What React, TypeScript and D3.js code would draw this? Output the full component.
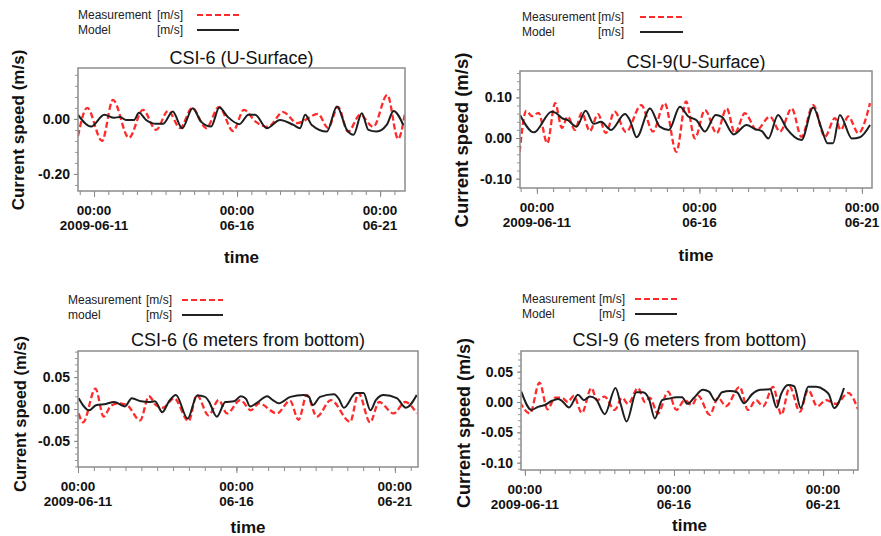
import React, { useEffect, useRef } from 'react';
import * as d3 from 'd3';

// [days since 2009-06-11 00:00, current speed m/s]
const csi6SurfMeas = [
  [-0.56, -0.062], [-0.24, 0.04], [0.28, -0.08], [0.66, 0.069], [1.22, -0.069], [1.71, 0.033],
  [2.17, -0.04], [2.59, 0.029], [3.01, -0.033], [3.43, 0.04], [3.92, -0.033], [4.37, 0.044],
  [4.86, -0.044], [5.24, 0.033], [5.66, -0.011], [6.08, -0.029], [6.61, 0.025], [7.1, -0.015],
  [7.83, 0.018], [8.18, -0.033], [8.53, 0.044], [8.88, -0.047], [9.3, 0.015], [9.76, -0.029],
  [10.25, 0.087], [10.63, -0.073], [10.87, 0.022],
];
const csi6SurfModel = [
  [-0.56, 0.015], [-0.1, -0.028], [0.36, 0.015], [0.7, 0.004], [0.91, 0.007], [1.12, -0.004],
  [1.4, -0.004], [1.57, 0.022], [1.82, -0.004], [2.17, -0.018], [2.41, -0.018], [2.75, 0.027],
  [3.08, -0.034], [3.45, 0.039], [3.74, -0.01], [4.09, -0.028], [4.38, 0.041], [4.67, 0.008],
  [5.08, -0.019], [5.4, 0.015], [5.63, 0.015], [6.04, -0.034], [6.5, -0.004], [6.97, -0.022],
  [7.2, -0.034], [7.38, 0.015], [7.61, -0.022], [8.14, -0.046], [8.49, 0.045], [8.84, -0.04],
  [9.07, -0.058], [9.36, 0.021], [9.59, -0.04], [9.88, -0.046], [10.23, -0.022], [10.47, 0.029],
  [10.81, -0.022],
];
const csi9SurfMeas = [
  [-0.53, -0.034], [-0.33, 0.067], [-0.15, 0.054], [0.05, 0.062], [0.32, -0.013], [0.56, 0.086],
  [0.77, 0.025], [0.95, 0.053], [1.17, 0.02], [1.38, 0.062], [1.63, 0.017], [1.88, 0.059],
  [2.12, 0.012], [2.39, 0.065], [2.74, 0.015], [3.21, 0.081], [3.57, 0.016], [3.93, 0.086],
  [4.29, -0.034], [4.59, 0.09], [4.86, -0.001], [5.17, 0.069], [5.53, 0.012], [5.84, 0.073],
  [6.09, 0.012], [6.4, 0.061], [6.76, 0.02], [7.17, 0.053], [7.48, 0.016], [7.84, 0.073],
  [8.14, 0.003], [8.5, 0.081], [8.86, 0.003], [9.17, 0.049], [9.35, 0.02], [9.58, 0.053],
  [9.89, 0.012], [10.25, 0.086],
];
const csi9SurfModel = [
  [-0.52, 0.057], [-0.09, 0.014], [0.45, 0.065], [0.58, 0.062], [0.77, 0.049], [0.95, 0.044],
  [1.22, 0.028], [1.5, 0.067], [1.75, 0.035], [1.97, 0.04], [2.28, 0.02], [2.71, 0.059],
  [2.86, 0.044], [3.07, 0.002], [3.48, 0.073], [3.78, 0.028], [4.06, 0.02], [4.4, 0.077],
  [4.66, 0.053], [4.91, 0.044], [5.17, 0.016], [5.5, 0.057], [5.69, 0.052], [6.06, 0.009],
  [6.45, 0.032], [6.71, 0.022], [6.92, 0.017], [7.12, -0.001], [7.42, 0.057], [7.68, 0.024],
  [8.14, -0.005], [8.5, 0.075], [8.77, 0.02], [8.94, -0.013], [9.11, -0.013], [9.32, 0.057],
  [9.69, -0.001], [9.94, 0.002], [10.25, 0.032],
];
const csi6BotMeas = [
  [0.02, -0.007], [0.16, -0.021], [0.55, 0.032], [0.81, -0.012], [1.04, 0.005], [1.29, 0.009],
  [1.55, 0.006], [1.96, -0.018], [2.24, 0.02], [2.46, 0.006], [2.68, 0.002], [3.03, 0.017],
  [3.49, -0.019], [3.75, 0.022], [4.12, -0.01], [4.44, 0.014], [4.7, -0.007], [5.12, 0.014],
  [5.46, -0.002], [5.71, 0.009], [6.28, -0.007], [6.69, 0.013], [6.96, -0.017], [7.22, 0.022],
  [7.54, -0.012], [7.98, 0.014], [8.59, -0.02], [8.85, 0.025], [9.22, -0.021], [9.5, 0.011],
  [9.96, -0.007], [10.33, 0.011], [10.69, -0.007],
];
const csi6BotModel = [
  [0.02, 0.017], [0.35, -0.002], [0.57, 0.006], [0.88, 0.008], [1.14, 0.011], [1.48, 0.004],
  [1.7, 0.017], [1.99, 0.012], [2.24, 0.011], [2.43, 0.012], [2.66, -0.005], [2.87, 0.012],
  [3.09, 0.022], [3.46, -0.015], [3.76, 0.021], [4.01, 0.019], [4.13, 0.012], [4.38, -0.012],
  [4.65, 0.011], [4.92, 0.012], [5.14, 0.02], [5.3, 0.016], [5.43, 0.004], [5.68, 0.011],
  [5.97, 0.02], [6.15, 0.014], [6.34, 0.009], [6.7, 0.019], [7.13, 0.022], [7.29, 0.019],
  [7.41, 0.006], [7.64, 0.019], [8.08, 0.023], [8.23, 0.016], [8.39, 0.002], [8.77, 0.025],
  [9.01, 0.025], [9.23, -0.002], [9.4, 0.014], [9.65, 0.022], [10.06, 0.017], [10.35, 0.002],
  [10.69, 0.022],
];
const csi9BotMeas = [
  [-0.17, 0.0], [0.17, -0.019], [0.49, 0.032], [0.76, -0.012], [1.01, 0.007], [1.24, 0.007],
  [1.44, 0.0], [1.64, 0.01], [1.91, -0.018], [2.23, 0.023], [2.42, 0.003], [2.67, 0.009],
  [3.01, -0.013], [3.26, 0.007], [3.46, -0.003], [3.79, 0.023], [4.03, 0.0], [4.19, 0.007],
  [4.46, -0.019], [4.8, 0.017], [5.08, -0.013], [5.36, 0.003], [5.6, -0.005], [5.81, 0.01],
  [6.2, -0.021], [6.48, 0.007], [6.74, -0.007], [7.2, 0.025], [7.48, -0.013], [7.75, 0.003],
  [7.99, -0.007], [8.32, 0.025], [8.6, -0.021], [8.88, 0.025], [9.22, -0.016], [9.5, 0.02],
  [9.8, -0.007], [10.1, 0.003], [10.44, -0.003], [10.84, 0.015], [11.17, -0.012],
];
const csi9BotModel = [
  [-0.12, 0.017], [0.22, -0.013], [0.44, -0.008], [0.67, -0.005], [0.91, 0.002], [1.11, 0.005],
  [1.24, 0.002], [1.48, -0.009], [1.78, 0.012], [1.98, 0.003], [2.18, 0.009], [2.38, 0.005],
  [2.68, -0.02], [3.04, 0.023], [3.22, -0.005], [3.41, -0.032], [3.74, 0.016], [3.96, 0.016],
  [4.16, 0.005], [4.36, -0.027], [4.6, 0.003], [4.87, 0.006], [5.07, 0.008], [5.27, 0.008],
  [5.45, -0.003], [5.67, 0.007], [5.97, 0.02], [6.17, 0.017], [6.39, 0.002], [6.61, 0.016],
  [6.88, 0.018], [7.11, 0.016], [7.35, -0.002], [7.62, 0.013], [7.89, 0.02], [8.22, 0.021],
  [8.44, -0.009], [8.59, 0.013], [8.83, 0.028], [9.03, 0.026], [9.25, -0.01], [9.5, 0.025],
  [9.77, 0.025], [10.03, 0.02], [10.2, 0.012], [10.37, -0.01], [10.7, 0.023],
];

const xTickDays = [0, 5, 10];
const xTickTime = ['00:00', '00:00', '00:00'];
const xTickDate = ['2009-06-11', '06-16', '06-21'];

const FONT = '"Liberation Sans", Arial, sans-serif';
const BASE = Date.UTC(2009, 5, 11);
const DAY = 86400000;
const toDate = (d: number) => new Date(BASE + d * DAY);

const panels = [
  {
    title: 'CSI-6 (U-Surface)', modelName: 'Model', meas: csi6SurfMeas, model: csi6SurfModel,
    box: { l: 78, r: 405, t: 68, b: 191 }, xDom: [-0.56, 10.87], yDom: [-0.262, 0.185],
    yTicks: [0, -0.2], yMinor: 0.04,
    leg: { x: 78, y: 19, ux: 157, lx1: 197, lx2: 239 }, titleY: 64, timeY: 263,
    yl: { x: 18, y: 130, size: 17 },
  },
  {
    title: 'CSI-9(U-Surface)', modelName: 'Model', meas: csi9SurfMeas, model: csi9SurfModel,
    box: { l: 520, r: 872, t: 71, b: 188 }, xDom: [-0.52, 10.31], yDom: [-0.123, 0.165],
    yTicks: [0.1, 0, -0.1], yMinor: 0.02,
    leg: { x: 522, y: 21, ux: 598, lx1: 640, lx2: 683 }, titleY: 68, timeY: 261,
    yl: { x: 462, y: 140, size: 18.5 },
  },
  {
    title: 'CSI-6 (6 meters from bottom)', modelName: 'model', meas: csi6BotMeas, model: csi6BotModel,
    box: { l: 78, r: 418, t: 351, b: 467 }, xDom: [0, 10.73], yDom: [-0.091, 0.091],
    yTicks: [0.05, 0, -0.05], yMinor: 0.01,
    leg: { x: 68, y: 304, ux: 146, lx1: 182, lx2: 223 }, titleY: 346, timeY: 533,
    yl: { x: 20, y: 414, size: 16.5 },
  },
  {
    title: 'CSI-9 (6 meters from bottom)', modelName: 'Model', meas: csi9BotMeas, model: csi9BotModel,
    box: { l: 521, r: 858, t: 351, b: 470 }, xDom: [-0.13, 11.17], yDom: [-0.112, 0.084],
    yTicks: [0.05, 0, -0.05, -0.1], yMinor: 0.01,
    leg: { x: 522, y: 303, ux: 599, lx1: 635, lx2: 677 }, titleY: 346, timeY: 531,
    yl: { x: 464, y: 423, size: 18 },
  },
];

function App() {
  const ref = useRef<SVGSVGElement>(null);

  useEffect(() => {
    const svg = d3.select(ref.current);
    svg.selectAll('*').remove();

    panels.forEach((p, i) => {
      const { box } = p;
      const x = d3.scaleUtc().domain(p.xDom.map(toDate)).range([box.l, box.r]);
      const y = d3.scaleLinear().domain(p.yDom).range([box.b, box.t]);
      const g = svg.append('g');

      // legend
      const leg = g.append('g').style('font-family', FONT).style('font-size', '12px').attr('fill', '#222');
      leg.append('text').attr('x', p.leg.x).attr('y', p.leg.y).text('Measurement');
      leg.append('text').attr('x', p.leg.ux).attr('y', p.leg.y).text('[m/s]');
      leg.append('text').attr('x', p.leg.x).attr('y', p.leg.y + 15).text(p.modelName);
      leg.append('text').attr('x', p.leg.ux).attr('y', p.leg.y + 15).text('[m/s]');
      leg.append('line').attr('x1', p.leg.lx1).attr('x2', p.leg.lx2)
        .attr('y1', p.leg.y - 4).attr('y2', p.leg.y - 4)
        .attr('stroke', '#ff2b2b').attr('stroke-width', 2.2).attr('stroke-dasharray', '6,3');
      leg.append('line').attr('x1', p.leg.lx1).attr('x2', p.leg.lx2)
        .attr('y1', p.leg.y + 11).attr('y2', p.leg.y + 11)
        .attr('stroke', '#222').attr('stroke-width', 2);

      // title
      g.append('text').attr('x', (box.l + box.r) / 2).attr('y', p.titleY)
        .attr('text-anchor', 'middle').style('font-family', FONT).style('font-size', '18px')
        .attr('fill', '#111').text(p.title);

      // minor x ticks every 12 hours
      const xMinor = d3.range(Math.ceil(p.xDom[0] * 2), Math.floor(p.xDom[1] * 2) + 1).map((k) => toDate(k / 2));
      g.append('g').attr('transform', `translate(0,${box.b})`)
        .call(d3.axisBottom(x).tickValues(xMinor).tickSize(4).tickFormat(() => ''))
        .call((a) => a.select('.domain').remove())
        .call((a) => a.selectAll('line').attr('stroke', '#888'));

      // major x ticks with two-line labels
      const xAx = g.append('g').attr('transform', `translate(0,${box.b})`)
        .call(d3.axisBottom(x).tickValues(xTickDays.map(toDate)).tickSize(6).tickFormat(() => ''));
      xAx.select('.domain').remove();
      xAx.selectAll('line').attr('stroke', '#888');
      xTickDays.forEach((d, k) => {
        const t = g.append('text').attr('text-anchor', 'middle').style('font-family', FONT)
          .style('font-size', '13.5px').style('font-weight', 'bold').attr('fill', '#111');
        t.append('tspan').attr('x', x(toDate(d))).attr('y', box.b + 24).text(xTickTime[k]);
        t.append('tspan').attr('x', x(toDate(d))).attr('y', box.b + 39).text(xTickDate[k]);
      });

      // minor y ticks
      const yMinor = d3.range(Math.ceil(p.yDom[0] / p.yMinor - 1e-6), Math.floor(p.yDom[1] / p.yMinor + 1e-6) + 1)
        .map((k) => k * p.yMinor);
      g.append('g').attr('transform', `translate(${box.l},0)`)
        .call(d3.axisLeft(y).tickValues(yMinor).tickSize(3).tickFormat(() => ''))
        .call((a) => a.select('.domain').remove())
        .call((a) => a.selectAll('line').attr('stroke', '#999'));

      // labelled y ticks
      const yAx = g.append('g').attr('transform', `translate(${box.l},0)`)
        .call(d3.axisLeft(y).tickValues(p.yTicks).tickSize(4).tickPadding(4)
          .tickFormat((v) => (v as number).toFixed(2)));
      yAx.select('.domain').remove();
      yAx.selectAll('line').attr('stroke', '#888');
      yAx.selectAll('text').style('font-family', FONT).style('font-size', '14px')
        .style('font-weight', 'bold').attr('fill', '#111');

      // clip + series
      const clipId = `clip-${i}`;
      g.append('clipPath').attr('id', clipId).append('rect')
        .attr('x', box.l).attr('y', box.t).attr('width', box.r - box.l).attr('height', box.b - box.t);
      const line = d3.line<number[]>()
        .x((d) => x(toDate(d[0])))
        .y((d) => y(d[1]))
        .curve(d3.curveMonotoneX);
      const plot = g.append('g').attr('clip-path', `url(#${clipId})`);
      plot.append('path').attr('d', line(p.meas)).attr('fill', 'none')
        .attr('stroke', '#ff2b2b').attr('stroke-width', 2.3).attr('stroke-dasharray', '6,3');
      plot.append('path').attr('d', line(p.model)).attr('fill', 'none')
        .attr('stroke', '#1e1e1e').attr('stroke-width', 2);

      // frame
      g.append('rect').attr('x', box.l).attr('y', box.t).attr('width', box.r - box.l)
        .attr('height', box.b - box.t).attr('fill', 'none').attr('stroke', '#8c8c8c').attr('stroke-width', 1.5);

      // axis titles
      g.append('text').attr('x', (box.l + box.r) / 2).attr('y', p.timeY).attr('text-anchor', 'middle')
        .style('font-family', FONT).style('font-size', '17px').style('font-weight', 'bold')
        .attr('fill', '#111').text('time');
      g.append('text').attr('transform', `translate(${p.yl.x},${p.yl.y}) rotate(-90)`)
        .attr('text-anchor', 'middle').attr('dy', '0.35em')
        .style('font-family', FONT).style('font-size', `${p.yl.size}px`).style('font-weight', 'bold')
        .attr('fill', '#111').text('Current speed (m/s)');
    });
  }, []);

  return (
    <svg ref={ref} width={881} height={536}
      style={{ position: 'absolute', left: 0, top: 0, background: '#fff' }} />
  );
}

export default App;
